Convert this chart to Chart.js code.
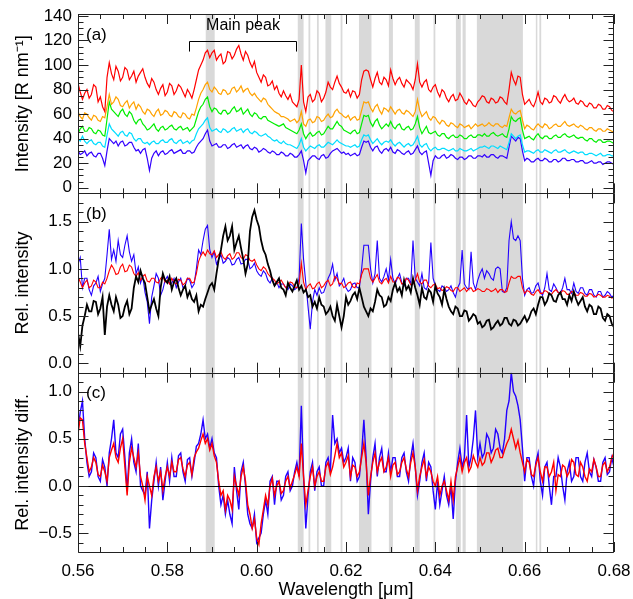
<!DOCTYPE html>
<html lang="en">
<head>
<meta charset="UTF-8">
<title>Spectra and relative intensities</title>
<script src="https://cdn.jsdelivr.net/npm/chart.js"></script>
<style>
  html, body { margin: 0; padding: 0; background: #fff; }
</style>
</head>
<body>
<canvas id="myChart" width="633" height="599"></canvas>

<script>
  // Sampling grid: 0.560 .. 0.680 um, one sample every 0.0005 um
  const wlStart = 0.560, wlStep = 0.0005, nPts = 241;
  const wavelength = [];
  for (let i = 0; i < nPts; i++) wavelength.push(+(wlStart + i * wlStep).toFixed(4));

  // Panel (a): intensity [R nm^-1]
  const intRed = [
    85, 78, 72, 77, 80, 73, 76, 84, 82, 70, 74, 66, 62, 90, 102, 93, 88, 99, 95, 87,
    90, 98, 96, 88, 91, 95, 86, 91, 94, 97, 90, 85, 82, 89, 86, 80, 76, 81, 84, 75,
    78, 85, 83, 76, 79, 84, 82, 78, 74, 80, 77, 73, 80, 88, 96, 100, 104, 110, 112, 106,
    110, 112, 104, 107, 109, 101, 103, 111, 110, 105, 108, 113, 116, 109, 104, 111, 108, 102, 98, 103,
    94, 90, 86, 92, 90, 83, 84, 87, 80, 83, 77, 74, 79, 75, 72, 76, 70, 68, 66, 72,
    100, 70, 62, 74, 76, 70, 72, 79, 77, 70, 73, 78, 86, 82, 80, 86, 91, 85, 82, 78,
    77, 80, 74, 79, 78, 73, 76, 88, 95, 96, 95, 88, 82, 89, 94, 86, 84, 90, 88, 83,
    96, 89, 84, 88, 90, 85, 82, 88, 86, 84, 80, 88, 101, 86, 82, 86, 88, 80, 78, 82,
    84, 78, 74, 80, 78, 73, 70, 74, 76, 71, 72, 77, 74, 70, 68, 72, 70, 67, 66, 70,
    72, 75, 74, 70, 69, 73, 72, 69, 70, 74, 73, 70, 68, 80, 94, 88, 84, 91, 90, 76,
    68, 70, 72, 68, 66, 71, 78, 70, 68, 73, 72, 69, 70, 75, 74, 71, 69, 73, 76, 72,
    70, 71, 73, 69, 68, 71, 70, 67, 66, 69, 68, 65, 65, 68, 67, 64, 64, 67, 66, 63,
    62];
  const intOrange = [
    62, 58, 56, 61, 60, 57, 55, 59, 58, 55, 54, 58, 57, 66, 76, 68, 70, 74, 72, 67,
    66, 69, 71, 65, 68, 70, 64, 68, 66, 62, 60, 64, 63, 60, 58, 62, 64, 59, 60, 63,
    62, 59, 58, 62, 61, 58, 57, 61, 60, 57, 56, 60, 59, 65, 72, 77, 80, 84, 86, 80,
    78, 82, 80, 77, 76, 80, 79, 76, 77, 81, 82, 78, 80, 83, 78, 80, 81, 77, 75, 77,
    74, 72, 70, 73, 72, 68, 66, 64, 62, 61, 60, 58, 58, 57, 56, 54, 55, 56, 53, 55,
    62, 52, 50, 55, 56, 53, 54, 58, 57, 54, 55, 58, 60, 57, 58, 62, 64, 61, 60, 58,
    57, 59, 55, 57, 58, 55, 56, 63, 70, 69, 70, 65, 62, 66, 68, 63, 60, 65, 64, 62,
    66, 63, 60, 63, 64, 61, 60, 63, 62, 60, 58, 62, 72, 63, 58, 60, 62, 57, 55, 58,
    57, 54, 52, 55, 54, 51, 50, 53, 52, 50, 49, 52, 51, 49, 50, 51, 48, 50, 52, 50,
    51, 52, 50, 51, 53, 51, 50, 52, 52, 50, 49, 51, 50, 57, 64, 61, 60, 62, 63, 55,
    48, 51, 50, 48, 47, 50, 52, 50, 49, 52, 51, 48, 49, 51, 52, 50, 50, 52, 54, 51,
    50, 51, 52, 50, 49, 51, 50, 48, 47, 49, 49, 47, 46, 48, 48, 46, 46, 48, 47, 46,
    45];
  const intGreen = [
    44, 48, 50, 46, 46, 49, 48, 45, 44, 47, 46, 43, 42, 56, 70, 64, 62, 60, 58, 62,
    64, 60, 58, 62, 60, 55, 52, 55, 56, 52, 50, 47, 48, 50, 52, 48, 46, 49, 50, 47,
    48, 50, 51, 48, 47, 49, 50, 47, 48, 49, 46, 48, 50, 56, 62, 66, 68, 72, 74, 66,
    62, 65, 64, 61, 60, 63, 63, 60, 61, 64, 66, 62, 63, 65, 60, 62, 64, 60, 58, 61,
    60, 57, 56, 58, 58, 55, 54, 53, 52, 51, 50, 51, 52, 49, 48, 47, 46, 45, 44, 47,
    52, 44, 40, 43, 45, 42, 43, 45, 46, 43, 44, 47, 50, 48, 48, 51, 54, 51, 50, 47,
    46, 45, 44, 46, 47, 44, 45, 52, 59, 58, 59, 53, 50, 54, 56, 51, 48, 50, 52, 50,
    54, 50, 48, 51, 52, 48, 47, 49, 50, 47, 48, 52, 58, 49, 44, 47, 50, 45, 44, 45,
    46, 43, 42, 44, 44, 41, 40, 42, 43, 41, 41, 43, 42, 40, 40, 42, 43, 41, 41, 43,
    43, 42, 44, 42, 42, 44, 45, 43, 42, 43, 44, 42, 41, 48, 58, 55, 54, 56, 57, 47,
    40, 41, 42, 40, 39, 42, 44, 41, 40, 42, 42, 40, 40, 42, 43, 41, 41, 43, 44, 42,
    41, 42, 43, 41, 40, 41, 41, 39, 38, 40, 40, 38, 37, 39, 39, 37, 37, 38, 38, 37,
    36];
  const intCyan = [
    40, 38, 42, 38, 36, 38, 39, 36, 35, 37, 37, 34, 33, 43, 52, 48, 46, 44, 42, 45,
    46, 43, 42, 45, 44, 40, 38, 40, 40, 37, 36, 37, 35, 37, 38, 36, 36, 38, 39, 37,
    37, 39, 40, 37, 36, 38, 39, 36, 37, 38, 36, 38, 39, 44, 48, 50, 52, 55, 57, 49,
    46, 47, 48, 46, 45, 48, 47, 45, 46, 48, 49, 46, 47, 48, 45, 47, 48, 45, 44, 46,
    45, 43, 42, 43, 44, 42, 41, 39, 38, 39, 37, 36, 38, 36, 35, 35, 34, 33, 32, 35,
    40, 33, 30, 32, 34, 33, 32, 34, 35, 33, 33, 35, 37, 36, 35, 37, 39, 37, 36, 35,
    34, 34, 33, 34, 35, 33, 34, 39, 43, 42, 43, 39, 36, 38, 40, 37, 35, 37, 38, 37,
    39, 36, 34, 36, 37, 35, 33, 35, 36, 34, 35, 38, 42, 35, 33, 35, 36, 32, 30, 32,
    33, 31, 31, 32, 32, 31, 30, 31, 32, 30, 30, 32, 31, 30, 30, 31, 32, 30, 31, 32,
    33, 33, 34, 33, 32, 34, 34, 33, 32, 34, 33, 32, 31, 37, 44, 42, 40, 42, 43, 35,
    29, 30, 30, 29, 28, 30, 31, 29, 29, 31, 30, 29, 28, 30, 31, 29, 29, 30, 31, 29,
    28, 29, 30, 29, 28, 29, 29, 27, 27, 28, 28, 27, 26, 27, 28, 26, 26, 27, 27, 26,
    26];
  const intBlue = [
    30, 27, 28, 30, 26, 28, 29, 26, 25, 28, 28, 24, 18, 30, 40, 38, 36, 38, 34, 37,
    38, 34, 35, 37, 37, 33, 30, 31, 28, 31, 32, 24, 14, 24, 28, 30, 26, 29, 30, 27,
    28, 30, 31, 28, 29, 30, 31, 28, 28, 30, 30, 28, 29, 33, 36, 38, 40, 44, 47, 38,
    34, 35, 36, 33, 33, 35, 35, 32, 33, 35, 36, 33, 34, 35, 32, 34, 35, 32, 31, 33,
    32, 29, 30, 32, 31, 29, 28, 30, 29, 27, 27, 29, 28, 26, 26, 28, 27, 25, 25, 27,
    30, 22, 12, 22, 24, 26, 26, 24, 23, 26, 27, 24, 25, 28, 30, 31, 32, 30, 28, 29,
    27, 28, 26, 27, 28, 26, 27, 33, 38, 37, 38, 33, 30, 33, 34, 30, 28, 31, 32, 30,
    33, 29, 28, 31, 30, 28, 27, 29, 30, 27, 28, 31, 34, 29, 27, 29, 30, 20, 10, 22,
    26, 24, 24, 26, 27, 24, 25, 27, 26, 24, 23, 25, 25, 23, 24, 26, 26, 24, 24, 26,
    26, 25, 27, 25, 25, 27, 27, 25, 24, 26, 26, 25, 24, 33, 42, 40, 38, 41, 40, 30,
    22, 24, 23, 21, 21, 23, 24, 22, 22, 24, 23, 21, 21, 23, 23, 21, 22, 24, 24, 22,
    22, 23, 23, 21, 21, 22, 22, 20, 20, 21, 22, 20, 20, 21, 21, 19, 20, 21, 21, 20,
    19];

  // Panel (b): relative intensity
  const relBlack = [
    0.32, 0.18, 0.4, 0.5, 0.62, 0.55, 0.55, 0.66, 0.65, 0.52, 0.58, 0.7, 0.3, 0.6, 0.72, 0.62, 0.55, 0.7, 0.62, 0.48,
    0.5, 0.6, 0.66, 0.52, 0.58, 0.8, 0.92, 0.86, 0.98, 0.9, 0.85, 0.7, 0.55, 0.62, 0.68, 0.58, 0.5, 0.8, 0.95, 0.88,
    0.85, 0.92, 0.78, 0.86, 0.9, 0.8, 0.72, 0.78, 0.82, 0.7, 0.76, 0.68, 0.65, 0.72, 0.55, 0.62, 0.6, 0.68, 0.75, 0.82,
    0.85, 0.78, 0.95, 1.1, 1.2, 1.35, 1.45, 1.3, 1.35, 1.45, 1.2, 1.28, 1.35, 1.22, 1.1, 0.95, 1.05, 1.4, 1.55, 1.62,
    1.52, 1.45, 1.3, 1.2, 1.15, 1.05, 0.98, 0.88, 0.82, 0.86, 0.9, 0.8, 0.78, 0.72, 0.85, 0.8, 0.76, 0.82, 0.88, 0.78,
    0.82, 0.75, 0.78, 0.7, 0.72, 0.6, 0.65, 0.58, 0.7, 0.62, 0.6, 0.52, 0.55, 0.6, 0.5, 0.45, 0.62, 0.5, 0.38, 0.5,
    0.7, 0.62, 0.66, 0.72, 0.75, 0.68, 0.8, 0.7, 0.6, 0.55, 0.5, 0.58, 0.55, 0.65, 0.78, 0.72, 0.7, 0.6, 0.62, 0.7,
    0.66, 0.78, 0.85, 0.76, 0.8, 0.72, 0.88, 0.78, 0.82, 0.75, 0.9, 0.8, 0.72, 0.62, 0.8, 0.7, 0.68, 0.78, 0.75, 0.65,
    0.82, 0.74, 0.7, 0.62, 0.78, 0.68, 0.6, 0.55, 0.52, 0.6, 0.58, 0.5, 0.5, 0.56, 0.55, 0.45, 0.48, 0.52, 0.5, 0.42,
    0.44, 0.38, 0.4, 0.45, 0.46, 0.36, 0.38, 0.42, 0.45, 0.4, 0.42, 0.48, 0.48, 0.42, 0.4, 0.46, 0.45, 0.4, 0.42, 0.46,
    0.5, 0.44, 0.48, 0.55, 0.58, 0.52, 0.62, 0.7, 0.7, 0.62, 0.66, 0.74, 0.72, 0.66, 0.65, 0.72, 0.75, 0.68, 0.68, 0.62,
    0.72, 0.66, 0.76, 0.68, 0.62, 0.66, 0.7, 0.6, 0.55, 0.62, 0.6, 0.52, 0.52, 0.6, 0.58, 0.48, 0.45, 0.52, 0.5, 0.42,
    0.38];
  const relRed = [
    0.92, 0.86, 0.8, 0.85, 0.88, 0.8, 0.82, 0.88, 0.86, 0.8, 0.8, 0.86, 0.84, 0.9, 0.98, 1.04, 1.0, 0.94, 0.95, 1.02,
    1.05, 0.97, 0.98, 1.04, 1.02, 0.95, 0.92, 0.96, 0.88, 0.92, 0.94, 0.87, 0.86, 0.9, 0.9, 0.86, 0.85, 0.9, 0.92, 0.86,
    0.88, 0.84, 0.9, 0.86, 0.84, 0.89, 0.88, 0.83, 0.85, 0.9, 0.9, 0.85, 0.86, 0.95, 1.08, 1.14, 1.18, 1.14, 1.2, 1.16,
    1.15, 1.19, 1.12, 1.15, 1.18, 1.12, 1.1, 1.14, 1.16, 1.1, 1.12, 1.17, 1.17, 1.12, 1.1, 1.15, 1.14, 1.09, 1.08, 1.1,
    1.04, 1.0, 0.98, 1.02, 1.0, 0.95, 0.92, 0.9, 0.88, 0.84, 0.86, 0.88, 0.84, 0.8, 0.82, 0.86, 0.85, 0.81, 0.8, 0.84,
    1.06, 0.86, 0.78, 0.82, 0.84, 0.79, 0.8, 0.84, 0.86, 0.8, 0.82, 0.86, 0.88, 0.82, 0.84, 0.92, 0.9, 0.84, 0.85, 0.8,
    0.82, 0.85, 0.86, 0.81, 0.8, 0.85, 0.84, 0.94, 1.0, 1.0, 1.0, 0.9, 0.86, 0.9, 0.94, 0.86, 0.84, 0.88, 0.9, 0.85,
    0.92, 0.86, 0.86, 0.91, 0.9, 0.84, 0.85, 0.9, 0.88, 0.83, 0.84, 0.88, 0.95, 0.86, 0.84, 0.88, 0.88, 0.82, 0.8, 0.83,
    0.84, 0.79, 0.8, 0.77, 0.78, 0.81, 0.8, 0.77, 0.76, 0.8, 0.8, 0.76, 0.78, 0.8, 0.76, 0.79, 0.8, 0.76, 0.77, 0.79,
    0.78, 0.76, 0.76, 0.79, 0.78, 0.76, 0.77, 0.79, 0.75, 0.78, 0.78, 0.75, 0.76, 0.85, 0.92, 0.9, 0.9, 0.92, 0.92, 0.8,
    0.74, 0.77, 0.76, 0.73, 0.72, 0.76, 0.78, 0.74, 0.74, 0.77, 0.76, 0.73, 0.73, 0.76, 0.78, 0.75, 0.74, 0.77, 0.76, 0.73,
    0.73, 0.76, 0.75, 0.72, 0.72, 0.75, 0.74, 0.71, 0.71, 0.74, 0.73, 0.7, 0.71, 0.73, 0.72, 0.7, 0.7, 0.72, 0.71, 0.69,
    0.7];
  const relBlue = [
    1.05, 1.12, 0.8, 0.9, 0.9, 0.78, 0.72, 0.82, 0.85, 0.92, 0.76, 0.84, 0.9, 1.15, 1.42, 1.1, 1.2, 1.08, 1.3, 1.15,
    1.12, 1.25, 1.35, 1.18, 1.08, 1.15, 0.95, 1.02, 0.85, 0.92, 0.75, 0.65, 0.42, 0.7, 0.82, 0.95, 0.9, 0.72, 0.78, 0.88,
    0.92, 0.84, 0.85, 0.9, 0.8, 0.86, 0.9, 0.8, 0.82, 0.9, 0.88, 0.8, 0.84, 1.0, 1.2, 1.15, 1.3, 1.42, 1.46, 1.2,
    1.12, 1.18, 1.05, 1.1, 1.15, 1.06, 1.08, 1.12, 1.1, 1.04, 1.05, 1.1, 1.12, 1.05, 1.06, 1.1, 1.1, 1.0, 1.02, 1.06,
    0.98, 0.94, 0.92, 0.98, 0.95, 0.88, 0.85, 0.9, 0.82, 0.86, 0.8, 0.84, 0.84, 0.8, 0.78, 0.84, 0.82, 0.78, 0.8, 0.9,
    1.48, 1.1, 0.85, 0.6, 0.36, 0.65, 0.78, 0.72, 0.8, 0.74, 0.75, 0.82, 0.9, 0.95, 1.05, 0.88, 0.95, 0.82, 0.85, 0.9,
    0.8, 0.76, 0.78, 0.84, 0.85, 0.8, 0.8, 1.0, 1.25, 1.25, 1.25, 1.0, 0.85, 0.95, 1.3, 0.9, 0.86, 0.92, 1.0, 0.88,
    1.1, 0.9, 0.84, 0.9, 0.95, 0.85, 0.82, 0.9, 0.9, 0.84, 1.3, 0.9, 0.86, 0.82, 0.95, 0.8, 0.78, 0.85, 1.28, 0.9,
    0.82, 0.78, 0.76, 0.82, 0.8, 0.76, 0.78, 0.82, 0.75, 0.7, 0.8, 0.85, 1.2, 0.84, 0.8, 0.78, 1.18, 0.85, 0.78, 0.88,
    0.95, 1.0, 0.9, 0.98, 0.95, 0.9, 0.88, 1.0, 1.02, 1.0, 0.76, 0.75, 0.8, 1.3, 1.5, 1.32, 1.3, 1.35, 1.3, 0.9,
    0.72, 0.78, 0.8, 0.74, 0.75, 0.82, 0.85, 0.76, 0.72, 0.8, 0.95, 0.78, 0.76, 0.84, 0.8, 0.75, 0.74, 0.8, 0.9, 0.78,
    0.78, 0.74, 0.85, 0.76, 0.74, 0.8, 0.8, 0.74, 0.72, 0.78, 0.78, 0.72, 0.7, 0.76, 0.76, 0.7, 0.72, 0.76, 0.74, 0.7,
    0.72];

  // Panel (c): relative intensity difference
  const diffRed = [
    0.55, 0.72, 0.7, 0.45, 0.3, 0.15, 0.2, 0.3, 0.25, 0.12, 0.1, 0.22, 0.15, 0.05, 0.3, 0.38, 0.45, 0.3, 0.25, 0.4,
    0.5, 0.2, -0.1, 0.25, 0.4, 0.3, 0.2, 0.35, 0.1, 0.0, -0.15, 0.1, 0.0, -0.1, 0.1, 0.2, 0.05, 0.15, -0.05, 0.1,
    0.2, 0.1, 0.25, 0.15, 0.15, 0.28, 0.3, 0.18, 0.1, 0.22, 0.25, 0.12, 0.3, 0.36, 0.4, 0.48, 0.55, 0.45, 0.5, 0.38,
    0.45, 0.32, 0.25, 0.05, -0.1, -0.05, -0.25, -0.1, -0.15, -0.25, 0.1, 0.0, -0.1, 0.1, 0.2, 0.05, -0.2, -0.3, -0.45, -0.35,
    -0.55, -0.62, -0.4, -0.25, -0.1, -0.2, 0.0, 0.08, -0.1, 0.0, 0.05, -0.08, -0.05, 0.05, 0.1, -0.02, 0.05, 0.12, 0.2, 0.1,
    0.45, 0.1, -0.2, -0.05, 0.1, 0.2, 0.0, 0.1, 0.15, 0.05, 0.05, 0.2, 0.25, 0.12, 0.2, 0.32, 0.45, 0.3, 0.35, 0.2,
    0.25, 0.32, 0.1, 0.22, 0.2, 0.1, 0.15, 0.3, 0.45, 0.25, -0.1, 0.1, 0.25, 0.35, 0.15, 0.25, 0.3, 0.15, 0.2, 0.3,
    0.1, 0.22, 0.25, 0.12, 0.15, 0.25, 0.3, 0.18, 0.1, 0.25, 0.35, 0.2, -0.05, 0.1, 0.2, 0.28, 0.1, 0.2, 0.15, 0.05,
    0.0, 0.1, -0.1, 0.0, 0.05, -0.05, -0.15, 0.05, -0.15, 0.1, 0.2, 0.3, 0.15, 0.25, 0.3, 0.15, 0.2, 0.32, 0.25, 0.2,
    0.3, 0.22, 0.25, 0.35, 0.35, 0.25, 0.3, 0.38, 0.4, 0.3, 0.3, 0.38, 0.45, 0.5, 0.6, 0.5, 0.4, 0.48, 0.35, 0.25,
    0.15, 0.28, 0.25, 0.12, 0.1, 0.22, 0.3, 0.15, 0.05, 0.2, 0.2, 0.1, 0.15, 0.25, -0.05, 0.12, 0.1, 0.22, 0.2, 0.1,
    0.15, 0.28, 0.25, 0.12, 0.1, 0.25, 0.2, 0.1, 0.05, 0.18, 0.15, 0.28, 0.2, 0.1, 0.1, 0.22, 0.25, 0.15, 0.2, 0.3,
    0.35];
  const diffBlue = [
    0.6, 0.78, 0.9, 0.5, 0.25, 0.1, 0.15, 0.35, 0.3, 0.1, 0.05, 0.28, 0.2, 0.0, 0.35, 0.5, 0.7, 0.35, 0.3, 0.55,
    0.6, 0.3, -0.05, 0.35, 0.5, 0.25, 0.15, 0.45, 0.0, -0.05, -0.1, 0.15, -0.45, -0.15, 0.05, 0.25, 0.0, 0.2, -0.15, 0.05,
    0.25, 0.05, 0.3, 0.1, 0.1, 0.32, 0.35, 0.15, 0.05, 0.28, 0.3, 0.1, 0.25, 0.42, 0.45, 0.55, 0.7, 0.5, 0.55, 0.4,
    0.5, 0.35, 0.3, 0.0, -0.2, -0.1, -0.3, -0.15, -0.3, -0.4, 0.2, -0.05, -0.25, 0.15, 0.25, 0.0, -0.3, -0.4, -0.45, -0.3,
    -0.6, -0.55, -0.5, -0.3, -0.15, -0.3, 0.05, 0.1, -0.2, 0.05, 0.05, -0.15, -0.1, 0.1, 0.15, -0.05, 0.0, 0.15, 0.25, 0.1,
    0.85, 0.1, -0.45, -0.1, 0.15, 0.25, -0.05, 0.15, 0.2, 0.0, 0.0, 0.25, 0.3, 0.15, 0.75, 0.45, 0.5, 0.35, 0.4, 0.25,
    0.3, 0.4, 0.05, 0.3, 0.25, 0.05, 0.1, 0.35, 0.7, 0.3, -0.3, 0.05, 0.3, 0.45, 0.1, 0.3, 0.4, 0.15, 0.15, 0.35,
    0.15, 0.3, 0.3, 0.1, 0.1, 0.3, 0.35, 0.15, 0.05, 0.3, 0.45, 0.2, -0.1, 0.05, 0.25, 0.35, 0.05, 0.25, 0.2, -0.05,
    -0.25, 0.05, -0.2, -0.05, 0.1, -0.1, -0.2, 0.0, -0.35, 0.05, 0.25, 0.4, 0.2, 0.3, 0.75, 0.2, 0.3, 0.5, 0.8, 0.3,
    0.45, 0.3, 0.35, 0.55, 0.5, 0.35, 0.4, 0.6, 0.55, 0.4, 0.35, 0.5, 0.8, 0.9, 1.2, 1.0, 0.95, 0.85, 0.7, 0.4,
    0.05, 0.3, 0.3, 0.1, 0.0, 0.25, 0.35, 0.05, -0.1, 0.2, 0.25, 0.0, -0.2, 0.1, 0.1, 0.3, 0.2, 0.0, -0.15, 0.15,
    0.25, 0.05, 0.1, 0.3, 0.3, 0.1, 0.05, 0.25, 0.35, 0.15, 0.1, 0.28, 0.2, 0.05, 0.05, 0.25, 0.3, 0.12, 0.15, 0.3,
    0.2];

  // Masked wavelength ranges (grey bands), um
  const bands = [
    [0.5886, 0.5906], [0.6092, 0.6105], [0.6116, 0.6120], [0.6135, 0.6139],
    [0.6154, 0.6167], [0.6188, 0.6192], [0.6229, 0.6257], [0.6296, 0.6305],
    [0.6354, 0.6365], [0.6396, 0.6400], [0.6446, 0.6457], [0.6461, 0.6468],
    [0.6493, 0.6596], [0.6625, 0.6628], [0.6633, 0.6637]
  ];

  // "Main peak" bracket in panel (a) data units
  const peakFrom = 0.5848, peakTo = 0.6088, peakTop = 119.5, peakFoot = 111, peakTextY = 132;

  const fontFam = '"Liberation Sans", Arial, Helvetica, sans-serif';
  Chart.defaults.font.family = fontFam;
  Chart.defaults.color = '#000';

  const pts = vals => vals.map((v, i) => ({ x: wavelength[i], y: v }));
  const line = (label, vals, color, axis, width) => ({
    label: label,
    data: pts(vals),
    yAxisID: axis,
    borderColor: color,
    borderWidth: width,
    pointRadius: 0,
    tension: 0,
    fill: false
  });

  // ticks drawn inward on every side of every panel
  const panelTicks = { ya: [20, 5], yb: [0.5, 0.1], yc: [0.5, 0.1] };
  const xMajor = 0.02, xMinor = 0.005;

  function eachStep(min, max, step, fn) {
    const k0 = Math.ceil(min / step - 1e-6), k1 = Math.floor(max / step + 1e-6);
    for (let k = k0; k <= k1; k++) fn(k * step);
  }

  const panelDecor = {
    id: 'panelDecor',
    beforeDatasetsDraw(chart) {
      const { ctx, chartArea, scales } = chart;
      ctx.save();
      ctx.fillStyle = '#d9d9d9';
      bands.forEach(([a, b]) => {
        const x0 = scales.x.getPixelForValue(a);
        const x1 = scales.x.getPixelForValue(b);
        ctx.fillRect(x0, chartArea.top, Math.max(1.5, x1 - x0), chartArea.bottom - chartArea.top);
      });
      ctx.restore();
    },
    afterDatasetsDraw(chart) {
      const { ctx, scales } = chart;
      const x = scales.x;
      ctx.save();

      // zero line in panel (c)
      const y0 = Math.round(scales.yc.getPixelForValue(0)) + 0.5;
      ctx.strokeStyle = '#000';
      ctx.lineWidth = 1;
      ctx.beginPath();
      ctx.moveTo(x.left, y0);
      ctx.lineTo(x.right, y0);
      ctx.stroke();

      ctx.strokeStyle = '#222';
      ctx.beginPath();
      ['ya', 'yb', 'yc'].forEach(id => {
        const s = scales[id];
        const [maj, mnr] = panelTicks[id];
        const L = x.left + 0.5, R = x.right - 0.5;
        eachStep(s.min, s.max, mnr, v => {
          const py = Math.round(s.getPixelForValue(v)) + 0.5;
          const isMaj = Math.abs(v / maj - Math.round(v / maj)) < 1e-6;
          const len = isMaj ? 10 : 5;
          ctx.moveTo(L, py); ctx.lineTo(L + len, py);
          ctx.moveTo(R, py); ctx.lineTo(R - len, py);
        });
        eachStep(x.min, x.max, xMinor, v => {
          const px = Math.round(x.getPixelForValue(v)) + 0.5;
          const isMaj = Math.abs(v / xMajor - Math.round(v / xMajor)) < 1e-6;
          const len = isMaj ? 10 : 5;
          ctx.moveTo(px, s.top); ctx.lineTo(px, s.top + len);
          ctx.moveTo(px, s.bottom); ctx.lineTo(px, s.bottom - len);
        });
        ctx.rect(L, Math.round(s.top) + 0.5, R - L, Math.round(s.bottom) - Math.round(s.top));
      });
      ctx.stroke();

      // panel letters
      ctx.fillStyle = '#000';
      ctx.font = '17px ' + fontFam;
      ctx.textAlign = 'left';
      ctx.textBaseline = 'middle';
      [['ya', '(a)'], ['yb', '(b)'], ['yc', '(c)']].forEach(([id, txt]) => {
        ctx.fillText(txt, x.left + 8, scales[id].top + 21);
      });

      // "Main peak" bracket
      const ya = scales.ya;
      const bx0 = Math.round(x.getPixelForValue(peakFrom)) + 0.5;
      const bx1 = Math.round(x.getPixelForValue(peakTo)) + 0.5;
      const by = Math.round(ya.getPixelForValue(peakTop)) + 0.5;
      const bf = ya.getPixelForValue(peakFoot);
      ctx.strokeStyle = '#000';
      ctx.beginPath();
      ctx.moveTo(bx0, bf); ctx.lineTo(bx0, by); ctx.lineTo(bx1, by); ctx.lineTo(bx1, bf);
      ctx.stroke();
      ctx.font = '16px ' + fontFam;
      ctx.textAlign = 'center';
      ctx.fillText('Main peak', (bx0 + bx1) / 2, ya.getPixelForValue(peakTextY));

      ctx.restore();
    }
  };

  const yAxis = (min, max, step, title, fmt) => ({
    type: 'linear',
    position: 'left',
    stack: 'panels',
    stackWeight: 1,
    min: min,
    max: max,
    grid: { display: false, drawTicks: false },
    border: { display: false },
    ticks: { stepSize: step, includeBounds: false, autoSkip: false, padding: 6, color: '#000', font: { size: 17 }, callback: fmt },
    title: { display: true, text: title, color: '#000', font: { size: 18 }, padding: { top: 6, bottom: 0 } },
    afterFit: s => { s.width = 72; s.paddingTop = 0; s.paddingBottom = 0; }
  });

  const fmt1 = v => (v < 0 ? '\u2212' + Math.abs(v).toFixed(1) : v.toFixed(1));

  const ctx = document.getElementById('myChart').getContext('2d');
  const chart = new Chart(ctx, {
    type: 'line',
    data: {
      datasets: [
        line('Spectrum 1', intRed, '#ff0000', 'ya', 1.2),
        line('Spectrum 2', intOrange, '#ffa200', 'ya', 1.2),
        line('Spectrum 3', intGreen, '#00ee00', 'ya', 1.2),
        line('Spectrum 4', intCyan, '#00ddff', 'ya', 1.2),
        line('Spectrum 5', intBlue, '#3300ff', 'ya', 1.2),
        line('Rel. black', relBlack, '#000000', 'yb', 1.8),
        line('Rel. red', relRed, '#ff0000', 'yb', 1.1),
        line('Rel. blue', relBlue, '#2200ff', 'yb', 1.1),
        line('Diff. red', diffRed, '#ff0000', 'yc', 1.4),
        line('Diff. blue', diffBlue, '#2200ff', 'yc', 1.4)
      ]
    },
    options: {
      responsive: false,
      animation: false,
      layout: { padding: { left: 6, right: 19, top: 14, bottom: 0 } },
      plugins: {
        legend: { display: false },
        tooltip: { enabled: false }
      },
      scales: {
        // stacked panels are placed bottom-up, so the lowest panel comes first
        yc: yAxis(-0.7, 1.2, 0.5, 'Rel. intensity diff.', fmt1),
        yb: yAxis(-0.1, 1.8, 0.5, 'Rel. intensity', fmt1),
        ya: yAxis(-4.6, 141.6, 20, 'Intensity [R nm\u207B\u00B9]', v => String(v)),
        x: {
          type: 'linear',
          position: 'bottom',
          min: 0.56,
          max: 0.68,
          grid: { display: false, drawTicks: false },
          border: { display: false },
          ticks: { stepSize: 0.02, includeBounds: false, autoSkip: false, maxRotation: 0, padding: 9, color: '#000', font: { size: 17 }, callback: v => v.toFixed(2) },
          title: { display: true, text: 'Wavelength [\u03BCm]', color: '#000', font: { size: 18 }, padding: { top: 0, bottom: -2 } },
          afterFit: s => { s.height = 47; s.paddingLeft = 0; s.paddingRight = 0; }
        }
      }
    },
    plugins: [panelDecor]
  });
</script>
</body>
</html>
